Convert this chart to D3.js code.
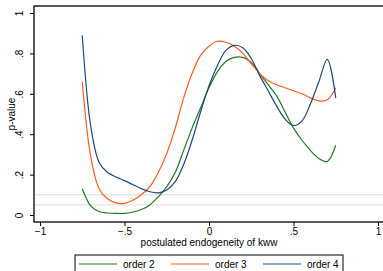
<!DOCTYPE html>
<html>
<head>
<meta charset="utf-8">
<script src="https://cdn.jsdelivr.net/npm/d3@7"></script>
<style>
  body { margin: 0; background: #fff; }
  svg { display: block; font-family: "Liberation Sans", Arial, sans-serif; }
</style>
</head>
<body>
<div id="chart"></div>
<script>
// values
const xs = [-0.75, -0.70, -0.65, -0.60, -0.55, -0.50, -0.45, -0.40, -0.35, -0.30, -0.25,
  -0.20, -0.15, -0.10, -0.05, 0.00, 0.05, 0.10, 0.15, 0.20, 0.25, 0.30, 0.35, 0.40,
  0.45, 0.50, 0.55, 0.60, 0.65, 0.70, 0.75];
const order2 = [0.13, 0.045, 0.017, 0.01, 0.008, 0.008, 0.015, 0.027, 0.05, 0.09, 0.14,
  0.21, 0.32, 0.43, 0.53, 0.63, 0.71, 0.76, 0.78, 0.78, 0.755, 0.70, 0.645, 0.59,
  0.51, 0.43, 0.37, 0.32, 0.28, 0.265, 0.345];
const order3 = [0.66, 0.29, 0.13, 0.08, 0.06, 0.058, 0.073, 0.10, 0.14, 0.21, 0.305,
  0.43, 0.58, 0.70, 0.79, 0.835, 0.86, 0.855, 0.835, 0.80, 0.75, 0.70, 0.665, 0.645,
  0.63, 0.615, 0.60, 0.58, 0.565, 0.57, 0.63];
const order4 = [0.89, 0.44, 0.26, 0.21, 0.188, 0.17, 0.15, 0.13, 0.115, 0.11, 0.124,
  0.165, 0.25, 0.37, 0.51, 0.64, 0.74, 0.815, 0.84, 0.828, 0.775, 0.69, 0.615, 0.54,
  0.475, 0.443, 0.465, 0.55, 0.66, 0.77, 0.58];
const seriesNames = ["order 2", "order 3", "order 4"];
const seriesColors = ["#1e7b1e", "#ff5b1f", "#1f4a78"];
const xTicks = [-1, -0.5, 0, 0.5, 1];
const xTickLabels = ["\u22121", "\u2212.5", "0", ".5", "1"];
const yTicks = [0, 0.2, 0.4, 0.6, 0.8, 1];
const yTickLabels = ["0", ".2", ".4", ".6", ".8", "1"];
const refLines = [0.05, 0.1];

const W = 383, H = 271;
const svg = d3.select("#chart").append("svg").attr("width", W).attr("height", H);

const x = d3.scaleLinear().domain([-1, 1]).range([40, 378]);
const y = d3.scaleLinear().domain([0, 1]).range([215, 13]);

// plot frame
svg.append("rect")
  .attr("x", 34).attr("y", 6).attr("width", 355).attr("height", 216)
  .attr("fill", "none").attr("stroke", "#000").attr("stroke-width", 1.3);

svg.selectAll(".ref").data(refLines).enter().append("line")
  .attr("x1", 35).attr("x2", 383)
  .attr("y1", d => y(d)).attr("y2", d => y(d))
  .attr("stroke", "#dcdcdc").attr("stroke-width", 1);

const xAxis = svg.append("g").attr("transform", "translate(0,222)")
  .call(d3.axisBottom(x).tickValues(xTicks).tickSize(4).tickSizeOuter(0)
    .tickFormat((d, i) => xTickLabels[i]));
xAxis.select(".domain").remove();
xAxis.selectAll("text").attr("font-size", 10).attr("fill", "#000").attr("dy", "0.55em");

const yAxis = svg.append("g").attr("transform", "translate(34,0)")
  .call(d3.axisLeft(y).tickValues(yTicks).tickSize(4).tickSizeOuter(0)
    .tickFormat((d, i) => yTickLabels[i]));
yAxis.select(".domain").remove();
yAxis.selectAll("text").attr("font-size", 10).attr("fill", "#000")
  .attr("text-anchor", "middle").attr("x", 0).attr("dy", 0)
  .attr("transform", "translate(-11,0) rotate(-90)");

svg.append("text").attr("x", 209).attr("y", 246).attr("text-anchor", "middle")
  .attr("font-size", 10).text("postulated endogeneity of kww");
svg.append("text").attr("transform", "translate(15,114) rotate(-90)")
  .attr("text-anchor", "middle").attr("font-size", 10).text("p-value");

const line = d3.line().x((d, i) => x(xs[i])).y(d => y(d)).curve(d3.curveCatmullRom.alpha(0.5));
[order2, order3, order4].forEach((vals, i) => {
  svg.append("path").datum(vals)
    .attr("d", line).attr("fill", "none")
    .attr("stroke", seriesColors[i]).attr("stroke-width", 1.2);
});

// legend
const leg = svg.append("g");
leg.append("rect").attr("x", 75).attr("y", 255).attr("width", 268).attr("height", 20)
  .attr("fill", "#fff").attr("stroke", "#000").attr("stroke-width", 1);
const legX = [79, 171, 263];
seriesNames.forEach((n, i) => {
  leg.append("line").attr("x1", legX[i]).attr("x2", legX[i] + 38)
    .attr("y1", 264).attr("y2", 264)
    .attr("stroke", seriesColors[i]).attr("stroke-width", 1.2);
  leg.append("text").attr("x", legX[i] + 44).attr("y", 268)
    .attr("font-size", 10).text(n);
});
</script>
</body>
</html>
